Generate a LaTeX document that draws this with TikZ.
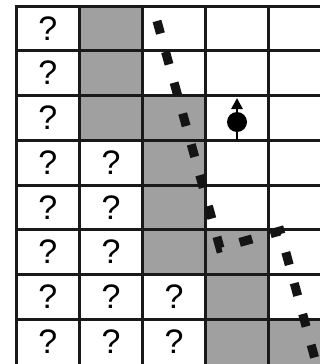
\documentclass[tikz,border=0pt]{standalone}
\usepackage{fontspec}
\setmainfont{Liberation Sans}
\usetikzlibrary{arrows.meta}
\definecolor{shade}{RGB}{160,160,160}
\begin{document}
\begin{tikzpicture}[x=1pt,y=-1pt,
  qmark/.style={font=\fontsize{34}{34}\selectfont, inner sep=0pt},
  shadecell/.style={fill=shade},
  gridline/.style={line width=3pt, draw=black!90},
  route/.style={line width=9pt, dash pattern=on 13pt off 19pt, draw=black!92},
  agentbody/.style={circle, fill=black, minimum size=20pt, inner sep=0pt},
  heading/.style={line width=2.8pt, -{Triangle[length=11pt,width=11pt]}}]
\useasboundingbox (0,0) rectangle (320,364);
\fill[white] (0,0) rectangle (320,364);
\begin{scope}
\clip (0,0) rectangle (320,364);
% shaded cells
\fill[shadecell] (79.5,6) rectangle (142.5,140.25);
\fill[shadecell] (142.5,95.5) rectangle (205.5,275);
\fill[shadecell] (205.5,229.75) rectangle (268.5,370);
\fill[shadecell] (268.5,319.25) rectangle (330,370);
% grid
\foreach \x in {16,79.5,142.5,205.5,268.5} \draw[gridline] (\x,4.5) -- (\x,370);
\foreach \k in {0,...,7} \draw[gridline] (14.5,{6+44.75*\k}) -- (330,{6+44.75*\k});
\end{scope}
% question marks
\foreach \r in {0,...,7} \node[qmark] (qa\r) at (47.75,{28.2+44.75*\r}) {?};
\foreach \r in {3,...,7} \node[qmark] (qb\r) at (111,{28.2+44.75*\r}) {?};
\foreach \r in {6,7} \node[qmark] (qc\r) at (174,{28.2+44.75*\r}) {?};
% agent
\node[agentbody] (agent) at (237,122) {};
\coordinate (tail) at (237,140);
\coordinate (tip) at (237,98);
\draw[heading] (tail) -- (tip);
% route
\coordinate (p0) at (157,21);
\coordinate (p1) at (220,248);
\coordinate (p2) at (280,231);
\coordinate (p3) at (318,370);
\begin{scope}
\clip (0,0) rectangle (320,364);
\draw[route] (p0) -- (p1) -- (p2) -- (p3);
\end{scope}
\end{tikzpicture}
\end{document}
